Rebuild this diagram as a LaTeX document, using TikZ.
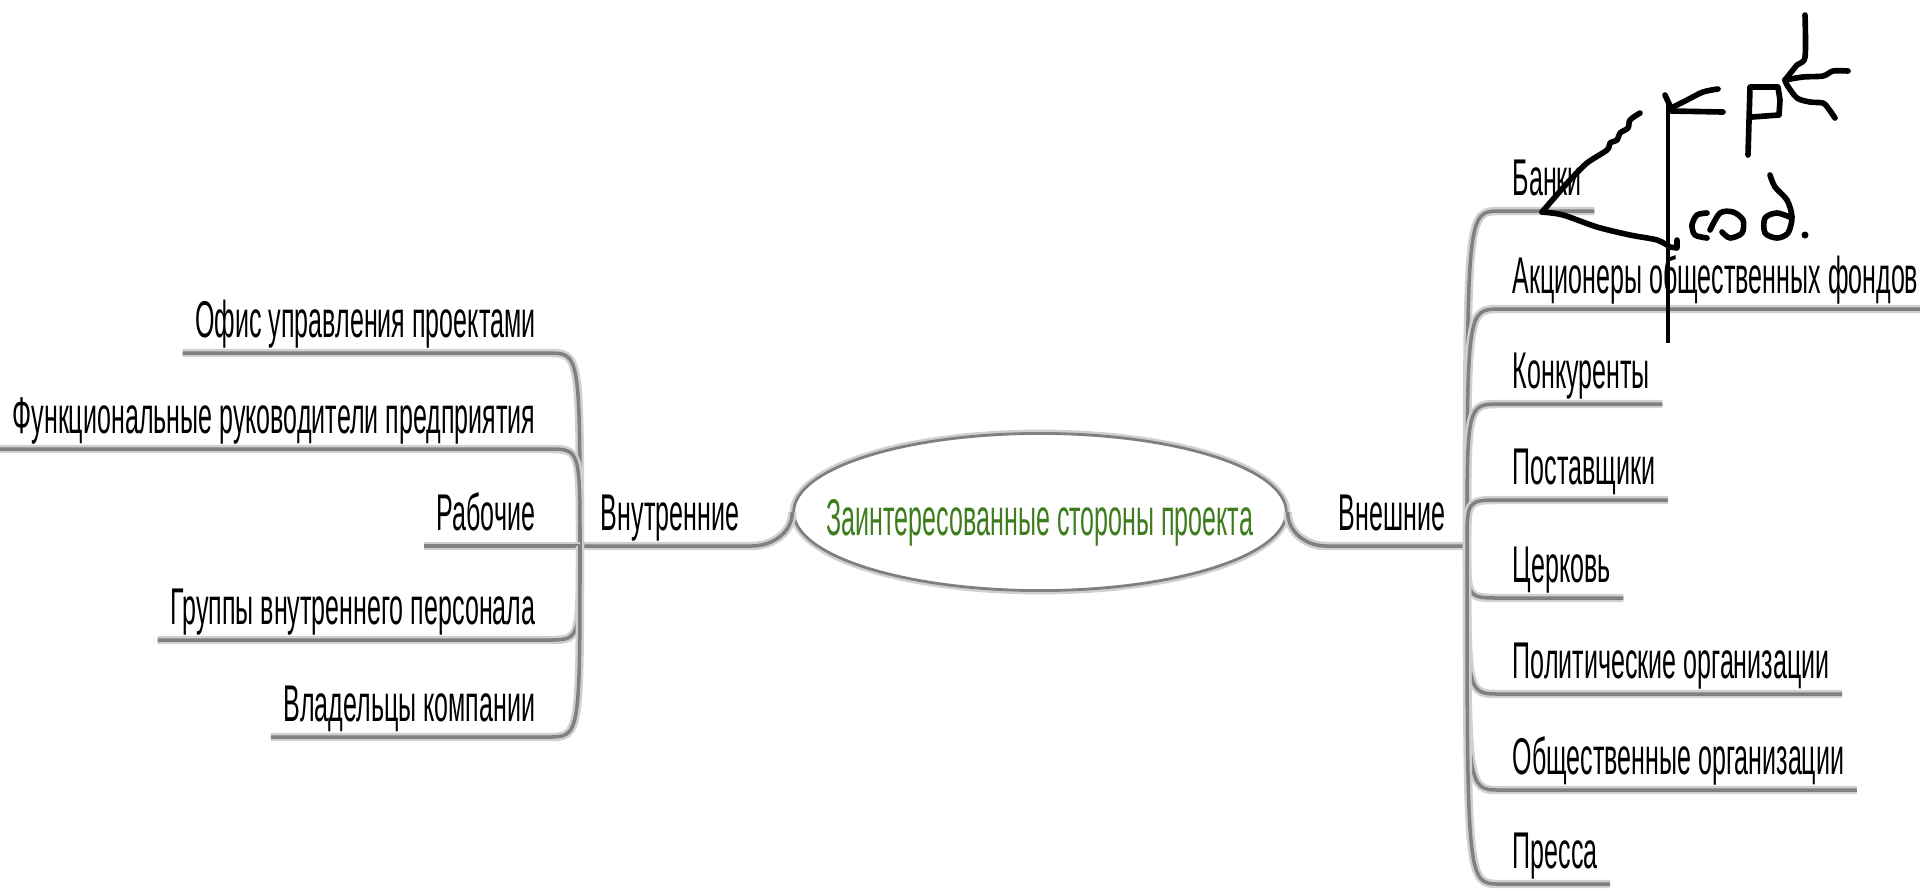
\documentclass[tikz,border=0pt]{standalone}
\usepackage{fontspec}
\newfontfamily\mapfont[FakeStretch=0.485]{Liberation Sans}
\usetikzlibrary{shapes.geometric}

\definecolor{linegray}{RGB}{128,128,128}
\definecolor{shadegray}{RGB}{208,208,208}
\definecolor{topicgreen}{RGB}{62,125,30}

\tikzstyle{leaf}=[font=\mapfont\fontsize{14.7}{17}\selectfont, text height=10.6pt, text depth=0pt, inner xsep=3.4pt, inner ysep=4.3pt]
\tikzstyle{topic}=[shape=ellipse, draw=linegray, line width=0.8pt, fill=white, inner xsep=-3.9mm, inner ysep=3.2mm, text=topicgreen, font=\mapfont\fontsize{14.7}{17}\selectfont, text height=13.4pt, text depth=0pt, preaction={draw=shadegray, line width=2.2pt}]
\tikzstyle{branch}=[draw=linegray, line width=1pt, preaction={draw=shadegray, line width=2.4pt}]
\tikzstyle{ink}=[draw=black, line width=1.6pt, line cap=round, line join=round]

\begin{document}
\begin{tikzpicture}[x=0.1mm, y=-0.1mm]
        \path[fill=white, use as bounding box] (0,0) rectangle (1920,893);
        \coordinate (lj) at (580,546);
        \coordinate (rj) at (1467,546);
        \node[topic] at (1040,512) (stake) {Заинтересованные стороны проекта};
        \node[leaf, anchor=south] at (670,546) (inner) {Внутренние};
        \node[leaf, anchor=south] at (1392,546) (outer) {Внешние};
        % internal stakeholders
        \node[leaf, anchor=south east] at (548,353) (pmo) {Офис управления проектами};
        \node[leaf, anchor=south east] at (548,449) (funcmgr) {Функциональные руководители предприятия};
        \node[leaf, anchor=south east] at (548,546) (workers) {Рабочие};
        \node[leaf, anchor=south east] at (548,640) (staff) {Группы внутреннего персонала};
        \node[leaf, anchor=south east] at (548,737) (owners) {Владельцы компании};
        % external stakeholders
        \node[leaf, anchor=south west] at (1500,211) (banks) {Банки};
        \node[leaf, anchor=south west] at (1500,309) (holders) {Акционеры общественных фондов};
        \node[leaf, anchor=south west] at (1500,404) (rivals) {Конкуренты};
        \node[leaf, anchor=south west] at (1500,500) (suppliers) {Поставщики};
        \node[leaf, anchor=south west] at (1500,598) (church) {Церковь};
        \node[leaf, anchor=south west] at (1500,694) (politic) {Политические организации};
        \node[leaf, anchor=south west] at (1500,790) (public) {Общественные организации};
        \node[leaf, anchor=south west] at (1500,884) (press) {Пресса};
        \draw[branch] (lj) -- (inner.south east) to[out=0,in=-90] (stake.west);
        \draw[branch] (stake.east) to[out=-90,in=180] (outer.south west) -- (rj);
        \draw[branch] (pmo.south west) -- (pmo.south east) .. controls (lj |- pmo.south) .. (lj);
        \draw[branch] (funcmgr.south west) -- (funcmgr.south east) .. controls (lj |- funcmgr.south) .. (lj);
        \draw[branch] (workers.south west) -- (lj);
        \draw[branch] (staff.south west) -- (staff.south east) .. controls (lj |- staff.south) .. (lj);
        \draw[branch] (owners.south west) -- (owners.south east) .. controls (lj |- owners.south) .. (lj);
        \draw[branch] (rj) .. controls (rj |- banks.south) .. (banks.south west) -- (banks.south east);
        \draw[branch] (rj) .. controls (rj |- holders.south) .. (holders.south west) -- (holders.south east);
        \draw[branch] (rj) .. controls (rj |- rivals.south) .. (rivals.south west) -- (rivals.south east);
        \draw[branch] (rj) .. controls (rj |- suppliers.south) .. (suppliers.south west) -- (suppliers.south east);
        \draw[branch] (rj) .. controls (rj |- church.south) .. (church.south west) -- (church.south east);
        \draw[branch] (rj) .. controls (rj |- politic.south) .. (politic.south west) -- (politic.south east);
        \draw[branch] (rj) .. controls (rj |- public.south) .. (public.south west) -- (public.south east);
        \draw[branch] (rj) .. controls (rj |- press.south) .. (press.south west) -- (press.south east);
        % handwritten marks
        \draw[ink] plot[smooth] coordinates {(1640,113) (1630,120) (1628,128) (1620,133) (1617,140) (1610,143) (1607,150) (1587,163) (1570,180) (1555,197) (1542,212)};
        \draw[ink] plot[smooth] coordinates {(1542,212) (1563,215) (1597,227) (1630,235) (1657,240) (1670,247)} -- (1677,248) -- (1677,240);
        \draw[draw=black, line width=0.9pt] (1668,104) -- (1668,343);
        \draw[ink] (1665,95) -- (1671,108);
        \draw[ink] plot[smooth] coordinates {(1671,108) (1687,100) (1703,92) (1718,89)};
        \draw[ink] (1671,111) -- (1723,112);
        \draw[ink] (1748,155) -- (1750,87) -- (1778,87) -- (1780,100) -- (1779,115) -- (1752,117);
        \draw[ink] plot[smooth] coordinates {(1805,15) (1805,57) (1797,65) (1785,80)};
        \draw[ink] plot[smooth] coordinates {(1785,80) (1803,77) (1823,76) (1833,71) (1848,71)};
        \draw[ink] plot[smooth] coordinates {(1785,80) (1787,85) (1797,98) (1810,102) (1823,103) (1828,108) (1835,118)};
        \draw[ink] plot[smooth] coordinates {(1707,213) (1697,215) (1692,225) (1695,235) (1707,238)};
        \draw[ink] plot[smooth] coordinates {(1710,230) (1720,213) (1733,212) (1743,220) (1742,233) (1730,238) (1722,232)};
        \draw[ink] plot[smooth] coordinates {(1770,175) (1775,187) (1787,200) (1792,217) (1788,233) (1777,238) (1765,233) (1765,218) (1777,213) (1792,218)};
        \fill (1805,235) circle (3.5);
\end{tikzpicture}
\end{document}
